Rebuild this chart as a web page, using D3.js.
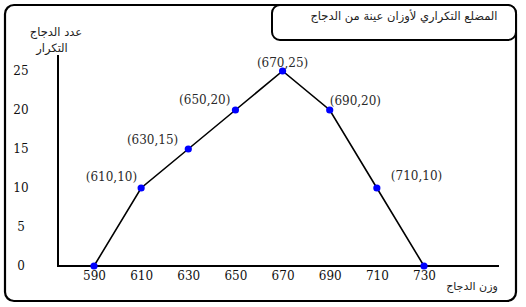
<!DOCTYPE html>
<html>
<head>
<meta charset="utf-8">
<script src="https://cdn.jsdelivr.net/npm/d3@7/dist/d3.min.js"></script>
<style>
  html, body { margin: 0; padding: 0; background: #fff; }
  svg { display: block; }
</style>
</head>
<body>
<svg id="chart" width="526" height="307"></svg>
<script>
// Frequency polygon: chicken weights (class midpoints) and their frequencies
const weights = [590, 610, 630, 650, 670, 690, 710, 730];
const frequencies = [0, 10, 15, 20, 25, 20, 10, 0];
const yTicks = [0, 5, 10, 15, 20, 25];
const xTicks = [590, 610, 630, 650, 670, 690, 710, 730];

const titleText = "المضلع التكراري لأوزان عينة من الدجاج";
const yTitleLines = ["عدد الدجاج", "التكرار"];
const xTitleText = "وزن الدجاج";

// Where each point's "(x,y)" label sits relative to its dot
const labelPlacement = [
  null,
  { anchor: "end", dx: -4, dy: -11 },
  { anchor: "end", dx: -10, dy: -9 },
  { anchor: "end", dx: -5, dy: -10 },
  { anchor: "middle", dx: 0, dy: -8 },
  { anchor: "start", dx: 0, dy: -9 },
  { anchor: "start", dx: 14, dy: -12 },
  null
];

const points = weights.map((w, i) => ({ w, f: frequencies[i], place: labelPlacement[i] }));

const svg = d3.select("#chart");
const serif = "'DejaVu Serif', 'Liberation Serif', serif";
const arabic = "'DejaVu Sans', sans-serif";

const x = d3.scaleLinear().domain([590, 730]).range([94, 424]);
const y = d3.scaleLinear().domain([0, 25]).range([266, 71]);

// Outer rounded frame
svg.append("rect")
  .attr("x", 5).attr("y", 5).attr("width", 511).attr("height", 296)
  .attr("rx", 9).attr("ry", 9)
  .attr("fill", "none").attr("stroke", "#000").attr("stroke-width", 2.2);

// Title box in the top-right corner
svg.append("rect")
  .attr("x", 272).attr("y", 5).attr("width", 244).attr("height", 35)
  .attr("rx", 8).attr("ry", 8)
  .attr("fill", "#fff").attr("stroke", "#000").attr("stroke-width", 2);

svg.append("text")
  .attr("x", 404).attr("y", 20)
  .attr("text-anchor", "middle")
  .attr("direction", "rtl")
  .attr("font-family", arabic).attr("font-size", 11.5)
  .attr("fill", "#222")
  .text(titleText);

// Axis lines
svg.append("line")
  .attr("x1", 58).attr("x2", 58).attr("y1", 55).attr("y2", y(0))
  .attr("stroke", "#000").attr("stroke-width", 2);
svg.append("line")
  .attr("x1", 57).attr("x2", 499).attr("y1", y(0)).attr("y2", y(0))
  .attr("stroke", "#000").attr("stroke-width", 2);

// Tick labels (no tick marks)
const yAxis = svg.append("g")
  .attr("transform", "translate(21,0)")
  .call(d3.axisLeft(y).tickValues(yTicks).tickSize(0).tickPadding(0));
yAxis.select(".domain").remove();
yAxis.selectAll("text")
  .attr("text-anchor", "middle")
  .attr("font-family", serif).attr("font-size", 12).attr("fill", "#111");

const xAxis = svg.append("g")
  .attr("transform", `translate(0,${y(0)})`)
  .call(d3.axisBottom(x).tickValues(xTicks).tickSize(0).tickPadding(5).tickFormat(d3.format("d")));
xAxis.select(".domain").remove();
xAxis.selectAll("text")
  .attr("font-family", serif).attr("font-size", 12).attr("fill", "#111");

// Axis titles
svg.selectAll("text.ytitle")
  .data(yTitleLines)
  .join("text")
  .attr("class", "ytitle")
  .attr("x", (d, i) => i === 0 ? 56 : 52)
  .attr("y", (d, i) => 36 + i * 16)
  .attr("text-anchor", "middle")
  .attr("direction", "rtl")
  .attr("font-family", arabic).attr("font-size", 11.5)
  .attr("fill", "#222")
  .text(d => d);

svg.append("text")
  .attr("x", 472).attr("y", 290)
  .attr("text-anchor", "middle")
  .attr("direction", "rtl")
  .attr("font-family", arabic).attr("font-size", 11)
  .attr("fill", "#222")
  .text(xTitleText);

// Polygon line
const line = d3.line().x(d => x(d.w)).y(d => y(d.f));
svg.append("path")
  .datum(points)
  .attr("d", line)
  .attr("fill", "none").attr("stroke", "#000").attr("stroke-width", 1.6);

// Points
svg.selectAll("circle.pt")
  .data(points)
  .join("circle")
  .attr("class", "pt")
  .attr("cx", d => x(d.w)).attr("cy", d => y(d.f))
  .attr("r", 3.6)
  .attr("fill", "#0000ff");

// Coordinate labels
svg.selectAll("text.pl")
  .data(points.filter(d => d.place))
  .join("text")
  .attr("class", "pl")
  .attr("x", d => x(d.w) + d.place.dx)
  .attr("y", d => y(d.f) + d.place.dy)
  .attr("dy", "0.35em")
  .attr("text-anchor", d => d.place.anchor)
  .attr("font-family", serif).attr("font-size", 12)
  .attr("fill", "#2a2a2a")
  .text(d => `(${d.w},${d.f})`);
</script>
</body>
</html>
